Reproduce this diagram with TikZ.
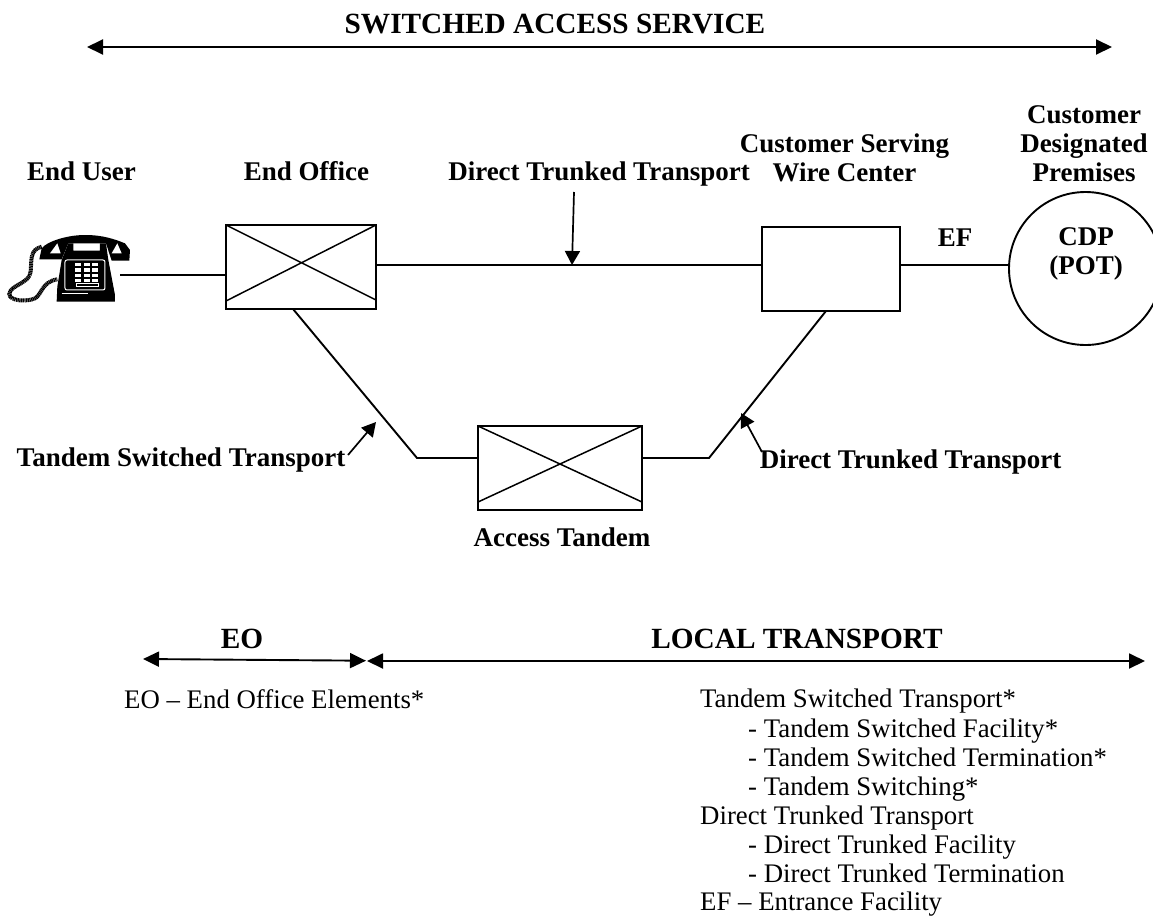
\documentclass[tikz,border=0pt]{standalone}
\usepackage{fontspec}
\setmainfont{Liberation Serif}
\usetikzlibrary{arrows.meta}
\tikzset{
 x=1pt,y=-1pt,
 line/.style={draw=black,line width=1.9pt},
 swbox/.style={draw=black,line width=1.9pt,inner sep=0pt,outer sep=0pt,minimum width=#1},
 xline/.style={line width=1.5pt},
 lab/.style={font=\fontsize{27}{29.3}\selectfont\bfseries,align=center,inner sep=0pt,anchor=base},
 big/.style={font=\fontsize{29.3}{32}\selectfont\bfseries,inner sep=0pt,anchor=base},
 txt/.style={font=\fontsize{26.8}{29.3}\selectfont,inner sep=0pt,anchor=base west},
 dbl/.style={line width=1.9pt,{Triangle[length=16pt,width=15pt]}-{Triangle[length=16pt,width=15pt]}},
 ptr/.style={line width=1.7pt,-{Triangle[length=14pt,width=15pt]}},
}
\begin{document}
\begin{tikzpicture}
\useasboundingbox (0,0) rectangle (1153,916);
% text
\node[big] (title) at (555,33.5) {SWITCHED ACCESS SERVICE};
\coordinate (ta) at (87,47); \coordinate (tb) at (1112,47);
\draw[dbl] (ta) -- (tb);
\node[lab] (lu) at (81.5,180) {End User};
\node[lab] (lo) at (306.5,180) {End Office};
\node[lab] (ld) at (599,180) {Direct Trunked Transport};
\node[lab,anchor=center] (lc) at (844.5,158) {Customer Serving\\Wire Center};
\node[lab,anchor=center] (lp) at (1084,143.5) {Customer\\Designated\\Premises};
\node[lab] (lef) at (955,246) {EF};
\node[lab] (lts) at (181,466) {Tandem Switched Transport};
\node[lab] (ldt) at (910.5,468) {Direct Trunked Transport};
\node[lab] (lat) at (562,546) {Access Tandem};
\node[big] (leo) at (242,648) {EO};
\node[big] (llt) at (797,648) {LOCAL TRANSPORT};
% boxes
\node[swbox=150pt,minimum height=84pt] (eo) at (301,267) {};
\draw[xline] (eo.north west)--(376,300) (226,301)--(eo.north east);
\node[swbox=164pt,minimum height=84pt] (at) at (560,468) {};
\draw[xline] (at.north west)--(642,502) (478,502)--(at.north east);
\node[swbox=138pt,minimum height=84pt] (cs) at (831,269) {};
\node[draw=black,line width=1.9pt,circle,minimum size=153pt,inner sep=0pt,outer sep=0pt] (cdp) at (1085.5,268.5) {};
\node[lab,anchor=center] (cdpt) at (1086,254) {CDP\\(POT)};
% connectors
\coordinate (ph) at (120,275);
\coordinate (b1) at (417,458); \coordinate (b2) at (709,458);
\coordinate (e1) at (293,309); \coordinate (c1) at (826,311);
\draw[line] (ph) -- (eo.west |- ph);
\draw[line] (eo.east |- 0,265) -- (cs.west |- 0,265);
\draw[line] (cs.east |- 0,265) -- (cdp.west |- 0,265);
\draw[line] (e1) -- (b1) -- (at.west |- b1);
\draw[line] (at.east |- b2) -- (b2) -- (c1);
% pointers
\coordinate (p1a) at (574,192); \coordinate (p1b) at (572,265);
\draw[ptr] (p1a) -- (p1b);
\coordinate (p2a) at (348,455); \coordinate (p2b) at (376,422);
\draw[ptr] (p2a) -- (p2b);
\coordinate (p3a) at (762,452); \coordinate (p3b) at (741,413);
\draw[ptr] (p3a) -- (p3b);
% bottom arrows
\coordinate (s1) at (143,659); \coordinate (s2) at (366,660.7); \coordinate (s3) at (367,661); \coordinate (s4) at (1145,661);
\draw[dbl] (s1) -- (s2);
\draw[dbl] (s3) -- (s4);
% lists
\node[txt] (t0) at (124,708) {EO – End Office Elements*};
\node[txt] (t1) at (700,707) {Tandem Switched Transport*};
\node[txt] (t2) at (748,737) {- Tandem Switched Facility*};
\node[txt] (t3) at (748,766) {- Tandem Switched Termination*};
\node[txt] (t4) at (748,795) {- Tandem Switching*};
\node[txt] (t5) at (700,824) {Direct Trunked Transport};
\node[txt] (t6) at (748,853) {- Direct Trunked Facility};
\node[txt] (t7) at (748,882) {- Direct Trunked Termination};
\node[txt] (t8) at (700,910) {EF – Entrance Facility};
% telephone
\begin{scope}[shift={(0,200)},x=0.3333pt,y=-0.3333pt]
\fill (118,178) -- (125,145) .. controls (140,125) and (200,105) .. (255,105) .. controls (310,105) and (345,118) .. (375,130) -- (390,150) -- (388,182) -- (335,182) -- (318,130) -- (205,130) -- (185,178) -- cycle;
\fill (205,130) -- (220,130) -- (220,152) -- (300,152) -- (300,130) -- (318,130) -- (325,180) -- (345,285) -- (345,305) -- (170,305) -- (172,260) -- (185,180) -- cycle;
\fill[white] (150,160) -- (172,130) -- (182,160) -- cycle;
\fill[white] (335,160) -- (352,130) -- (365,160) -- cycle;
\draw[white,line width=1pt,rounded corners=2pt] (195,180) rectangle (315,270);
\foreach \xx in {225,251,277}\foreach \yy in {188,205,221,237}{\fill[white] (\xx,\yy) rectangle +(18,10);}
\draw[white,line width=.8pt] (228,250) rectangle (296,260);
\draw[white,line width=.8pt] (185,280) -- (265,280);
\draw[black,line width=4pt,dash pattern=on 1.2pt off .5pt] (125,140) .. controls (90,150) and (95,175) .. (92,215) .. controls (90,250) and (30,255) .. (28,282) .. controls (28,305) and (85,305) .. (105,295) .. controls (125,285) and (125,245) .. (172,238);
\end{scope}
\end{tikzpicture}
\end{document}
